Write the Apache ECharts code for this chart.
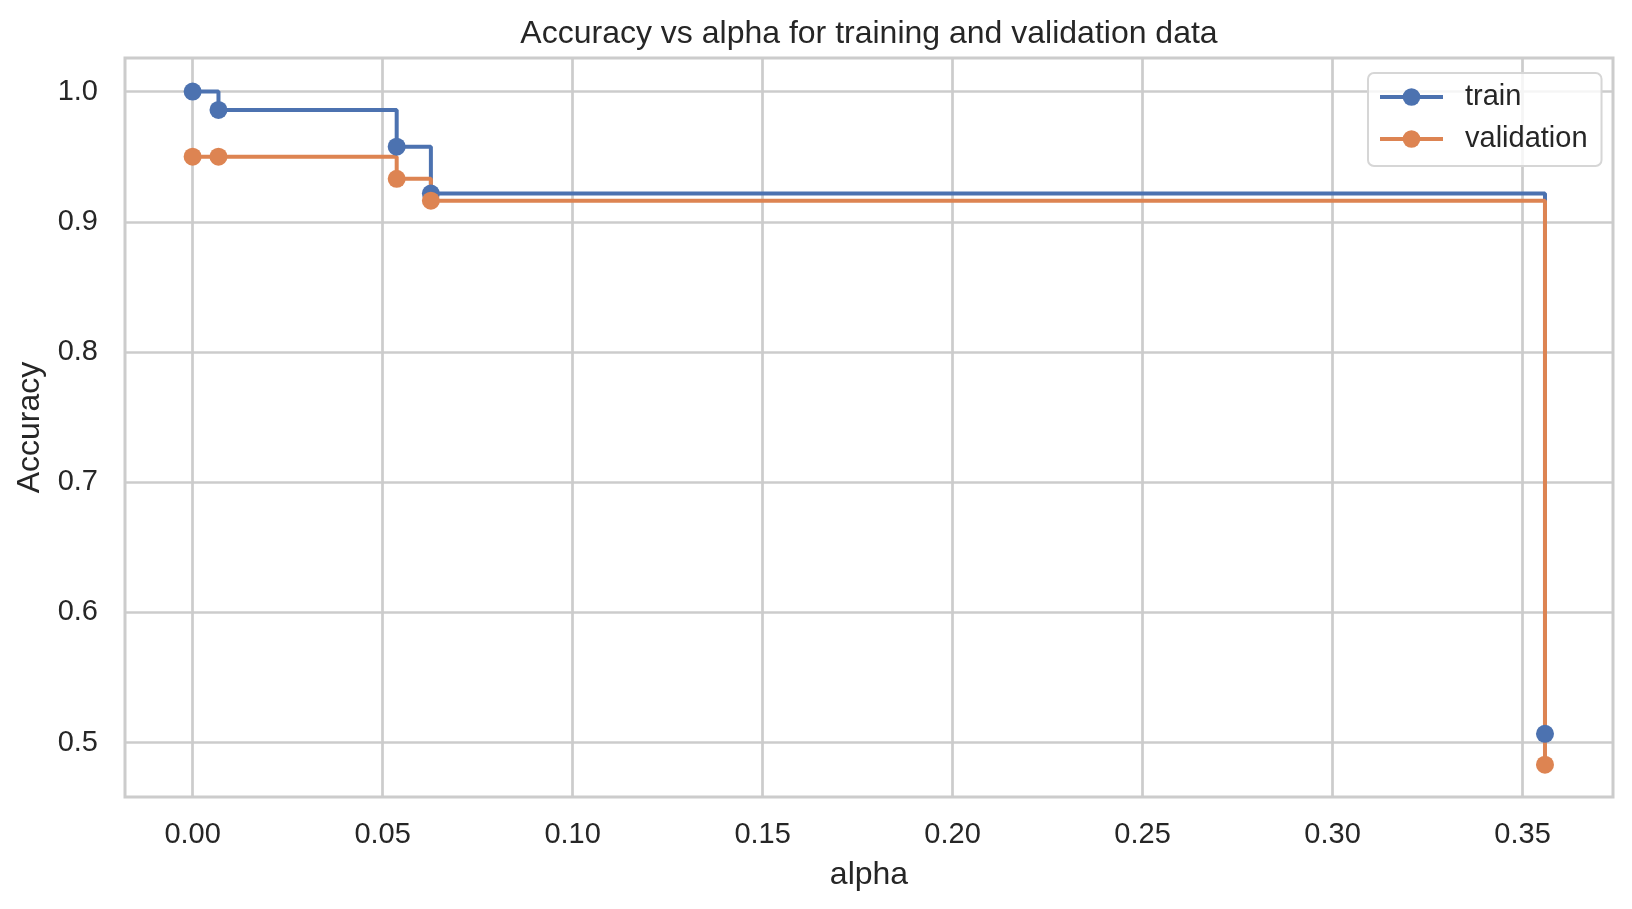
<!DOCTYPE html>
<html lang="en">
<head>
    <meta charset="UTF-8">
    <title>Accuracy vs alpha</title>
    <script src="https://cdn.jsdelivr.net/npm/echarts@6/dist/echarts.min.js"></script>
    <style>
        html, body { margin: 0; padding: 0; background: #fff; }
        #main { width: 1632px; height: 909px; }
    </style>
</head>
<body>
<div id="main"></div>

<script type="text/javascript">
    // data
    var alphas = [0.0, 0.0068, 0.0537, 0.0627, 0.3559];
    var trainAcc = [1.0, 0.9859, 0.9577, 0.9217, 0.5067];
    var validAcc = [0.950, 0.950, 0.9330, 0.9162, 0.4830];

    var xTicks = [0.00, 0.05, 0.10, 0.15, 0.20, 0.25, 0.30, 0.35];
    var yTicks = [0.5, 0.6, 0.7, 0.8, 0.9, 1.0];

    var textColor = '#262626';
    var gridColor = '#cccccc';
    var font = 'Liberation Sans, Arial, sans-serif';

    function pairs(xs, ys) {
        var out = [];
        for (var i = 0; i < xs.length; i++) {
            out.push([xs[i], ys[i]]);
        }
        return out;
    }

    var myChart = echarts.init(document.getElementById('main'));

    var option = {
        animation: false,
        backgroundColor: '#ffffff',
        title: {
            text: 'Accuracy vs alpha for training and validation data',
            left: 864,
            top: 13,
            textAlign: 'center',
            textStyle: {
                color: textColor,
                fontFamily: font,
                fontSize: 32,
                fontWeight: 'normal'
            }
        },
        legend: {
            orient: 'vertical',
            left: 1368,
            top: 73,
            padding: [9, 14, 12, 10],
            itemWidth: 63,
            itemHeight: 22,
            itemGap: 12,
            backgroundColor: 'rgba(255,255,255,0.8)',
            borderColor: '#d6d6d6',
            borderWidth: 2,
            borderRadius: 6,
            lineStyle: { width: 4 },
            textStyle: {
                color: textColor,
                fontFamily: font,
                fontSize: 29,
                lineHeight: 30,
                padding: [0, 0, 0, 17]
            },
            data: ['train', 'validation']
        },
        grid: {
            left: 125,
            right: 19,
            top: 58,
            bottom: 112,
            show: true,
            borderColor: gridColor,
            borderWidth: 3,
            backgroundColor: 'transparent'
        },
        xAxis: {
            type: 'value',
            min: -0.0178,
            max: 0.3738,
            name: 'alpha',
            nameLocation: 'middle',
            nameGap: 62,
            nameTextStyle: { color: textColor, fontFamily: font, fontSize: 32 },
            axisLine: { show: false },
            axisTick: { show: false, customValues: xTicks },
            axisLabel: {
                customValues: xTicks,
                margin: 23,
                color: textColor,
                fontFamily: font,
                fontSize: 29,
                formatter: function (v) { return v.toFixed(2); }
            },
            splitLine: { show: true, lineStyle: { color: gridColor, width: 2.7 } }
        },
        yAxis: {
            type: 'value',
            min: 0.4582,
            max: 1.0258,
            name: 'Accuracy',
            nameLocation: 'middle',
            nameGap: 79,
            nameTextStyle: { color: textColor, fontFamily: font, fontSize: 32 },
            axisLine: { show: false },
            axisTick: { show: false, customValues: yTicks },
            axisLabel: {
                customValues: yTicks,
                margin: 27,
                color: textColor,
                fontFamily: font,
                fontSize: 29,
                formatter: function (v) { return v.toFixed(1); }
            },
            splitLine: { show: true, lineStyle: { color: gridColor, width: 2.7 } }
        },
        series: [{
            name: 'train',
            type: 'line',
            step: 'end',
            data: pairs(alphas, trainAcc),
            symbol: 'circle',
            symbolSize: 18,
            color: '#4c72b0',
            itemStyle: { color: '#4c72b0' },
            lineStyle: { color: '#4c72b0', width: 4 }
        }, {
            name: 'validation',
            type: 'line',
            step: 'end',
            data: pairs(alphas, validAcc),
            symbol: 'circle',
            symbolSize: 18,
            color: '#dd8452',
            itemStyle: { color: '#dd8452' },
            lineStyle: { color: '#dd8452', width: 4 }
        }]
    };

    myChart.setOption(option);
</script>
</body>
</html>
